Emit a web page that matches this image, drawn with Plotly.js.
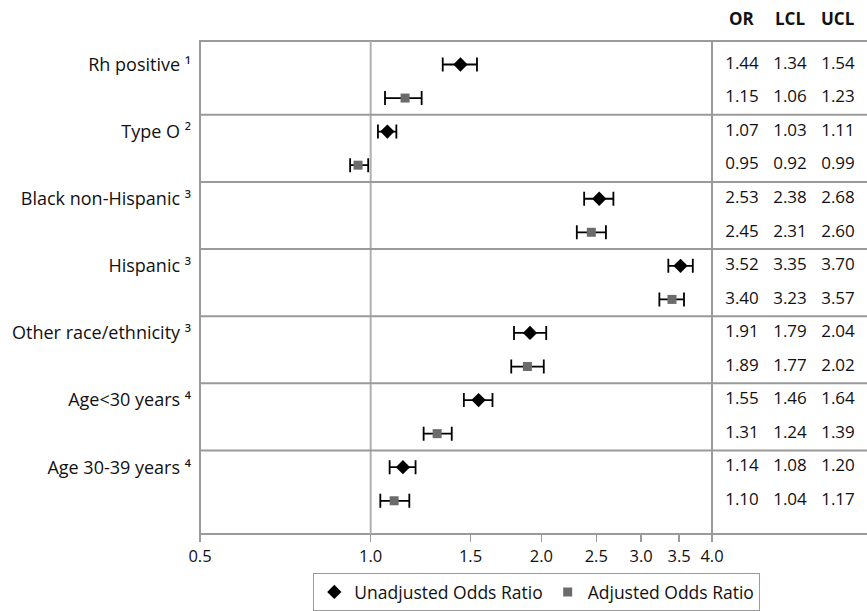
<!DOCTYPE html>
<html>
<head>
<meta charset="utf-8">
<script src="https://cdn.plot.ly/plotly-3.0.1.min.js"></script>
<style>html,body{margin:0;padding:0;background:#fff;}#chart{width:867px;height:611px;}</style>
</head>
<body>
<div id="chart"></div>
<script>
const groups = ["Rh positive \u00b9", "Type O \u00b2", "Black non-Hispanic \u00b3", "Hispanic \u00b3", "Other race/ethnicity \u00b3", "Age<30 years \u2074", "Age 30-39 years \u2074"];
const unadjOR  = [1.44, 1.07, 2.53, 3.52, 1.91, 1.55, 1.14];
const unadjLCL = [1.34, 1.03, 2.38, 3.35, 1.79, 1.46, 1.08];
const unadjUCL = [1.54, 1.11, 2.68, 3.70, 2.04, 1.64, 1.20];
const adjOR  = [1.15, 0.95, 2.45, 3.40, 1.89, 1.31, 1.10];
const adjLCL = [1.06, 0.92, 2.31, 3.23, 1.77, 1.24, 1.04];
const adjUCL = [1.23, 0.99, 2.60, 3.57, 2.02, 1.39, 1.17];
const tickVals = [0.5, 1.0, 1.5, 2.0, 2.5, 3.0, 3.5, 4.0];
const tickText = ["0.5", "1.0", "1.5", "2.0", "2.5", "3.0", "3.5", "4.0"];
const colHeaders = ["OR", "LCL", "UCL"];

const FONT = "Open Sans, Noto Sans, sans-serif";
const n = groups.length;
const yUn = groups.map((g, i) => 2 * i);
const yAdj = groups.map((g, i) => 2 * i + 1);

const rowsY = [], rowsOR = [], rowsL = [], rowsU = [];
for (let i = 0; i < n; i++) {
  rowsY.push(yUn[i], yAdj[i]);
  rowsOR.push(unadjOR[i], adjOR[i]);
  rowsL.push(unadjLCL[i], adjLCL[i]);
  rowsU.push(unadjUCL[i], adjUCL[i]);
}
const fmt = a => a.map(v => v.toFixed(2));

const errStyle = {type: 'data', symmetric: false, color: '#000', thickness: 1.8, width: 7};

const traces = [
  {
    type: 'scatter', mode: 'markers', name: 'Unadjusted Odds Ratio',
    x: unadjOR, y: yUn,
    marker: {symbol: 'diamond', size: 11, color: '#000'},
    error_x: Object.assign({}, errStyle, {array: unadjUCL.map((u, i) => u - unadjOR[i]), arrayminus: unadjOR.map((o, i) => o - unadjLCL[i])}),
    xaxis: 'x', yaxis: 'y', hoverinfo: 'x'
  },
  {
    type: 'scatter', mode: 'markers', name: 'Adjusted Odds Ratio',
    x: adjOR, y: yAdj,
    marker: {symbol: 'square', size: 9, color: '#6b6b6b'},
    error_x: Object.assign({}, errStyle, {array: adjUCL.map((u, i) => u - adjOR[i]), arrayminus: adjOR.map((o, i) => o - adjLCL[i])}),
    xaxis: 'x', yaxis: 'y', hoverinfo: 'x'
  }
];
[rowsOR, rowsL, rowsU].forEach((col, c) => {
  traces.push({
    type: 'scatter', mode: 'text', showlegend: false,
    x: rowsY.map(() => c), y: rowsY, text: fmt(col),
    textfont: {family: FONT, size: 17, color: '#111'},
    textposition: 'middle center',
    xaxis: 'x2', yaxis: 'y', hoverinfo: 'skip', cliponaxis: false
  });
});

const dEnd = 512 / 667;
const shapes = [];
shapes.push({type: 'rect', xref: 'paper', yref: 'paper', x0: 0, x1: 1.01, y0: 0, y1: 1, line: {color: '#9a9a9a', width: 2}, layer: 'below'});
shapes.push({type: 'line', xref: 'paper', yref: 'paper', x0: dEnd, x1: dEnd, y0: 0, y1: 1, line: {color: '#9a9a9a', width: 2}});
shapes.push({type: 'line', xref: 'x', yref: 'paper', x0: 1, x1: 1, y0: 0, y1: 1, line: {color: '#b0b0b0', width: 2}, layer: 'below'});
for (let i = 0; i < n - 1; i++) {
  const yy = 2 * i + 1.5;
  shapes.push({type: 'line', xref: 'paper', yref: 'y', x0: 0, x1: 1.01, y0: yy, y1: yy, line: {color: '#9a9a9a', width: 2}});
}

const annotations = colHeaders.map((h, c) => ({
  xref: 'x2', yref: 'paper', x: c, y: 1, yshift: 23, yanchor: 'middle',
  text: '<b>' + h + '</b>', showarrow: false,
  font: {family: FONT, size: 17, color: '#111'}
}));

const layout = {
  width: 867, height: 611,
  margin: {l: 200, r: 0, t: 41, b: 68},
  paper_bgcolor: '#fff', plot_bgcolor: '#fff',
  font: {family: FONT, size: 17, color: '#111'},
  xaxis: {
    type: 'log', domain: [0, dEnd],
    range: [Math.log10(0.5), Math.log10(4.0)],
    tickvals: tickVals, ticktext: tickText,
    showgrid: false, zeroline: false,
    ticks: 'outside', ticklen: 7, tickwidth: 1.5, tickcolor: '#9a9a9a',
    showline: false,
    tickfont: {family: FONT, size: 16.5, color: '#111'}
  },
  xaxis2: {
    domain: [dEnd, 1], range: [-0.625, 2.604],
    showgrid: false, zeroline: false, showticklabels: false, ticks: '', showline: false
  },
  yaxis: {
    range: [13.99, -0.70],
    tickvals: yUn, ticktext: groups,
    showgrid: false, zeroline: false, ticks: '', showline: false,
    ticklabelstandoff: 8,
    tickfont: {family: FONT, size: 18, color: '#111'}
  },
  shapes: shapes,
  annotations: annotations,
  showlegend: true,
  legend: {
    orientation: 'h', x: 0.505, xanchor: 'center', y: -0.08, yanchor: 'top',
    bordercolor: '#9a9a9a', borderwidth: 1,
    font: {family: FONT, size: 17.5, color: '#111'},
    itemwidth: 30, tracegroupgap: 0
  }
};

Plotly.newPlot('chart', traces, layout, {displayModeBar: false, staticPlot: true});
</script>
</body>
</html>
